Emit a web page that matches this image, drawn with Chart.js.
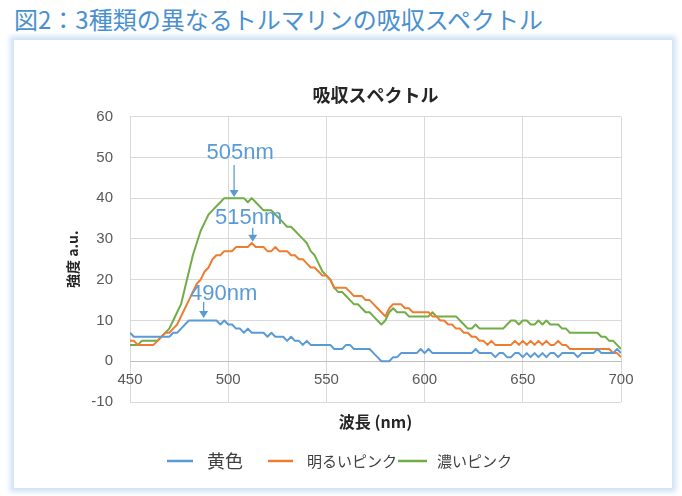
<!DOCTYPE html>
<html><head><meta charset="utf-8">
<script src="https://cdn.jsdelivr.net/npm/chart.js@4"></script>
<style>
html,body{margin:0;padding:0;background:#fff;width:682px;height:496px;overflow:hidden;}
#heading{position:absolute;left:14px;top:7px;font-family:'Noto Sans CJK JP',sans-serif;font-size:24px;line-height:24px;color:#4a90d0;white-space:nowrap;}
#card{position:absolute;left:14px;top:40px;width:658px;height:448px;background:#fff;box-shadow:0 0 5px 4px rgba(205,225,244,0.95);}
#wrap{position:absolute;left:0;top:0;width:682px;height:496px;}
</style></head><body>
<div id="heading">図2：3種類の異なるトルマリンの吸収スペクトル</div>
<div id="card"></div>
<div id="wrap"><canvas id="c"></canvas></div>
<script>
const chartTitle = '吸収スペクトル';
const xTitle = '波長 (nm)';
const yTitle = '強度 a.u.';
const seriesNames = ['黄色', '明るいピンク', '濃いピンク'];
const wavelengths = [
450,452,454,456,458,460,462,464,466,468,
470,472,474,476,478,480,482,484,486,488,
490,492,494,496,498,500,502,504,506,508,
510,512,514,516,518,520,522,524,526,528,
530,532,534,536,538,540,542,544,546,548,
550,552,554,556,558,560,562,564,566,568,
570,572,574,576,578,580,582,584,586,588,
590,592,594,596,598,600,602,604,606,608,
610,612,614,616,618,620,622,624,626,628,
630,632,634,636,638,640,642,644,646,648,
650,652,654,656,658,660,662,664,666,668,
670,672,674,676,678,680,682,684,686,688,
690,692,694,696,698,700];
const yellowValues = [
7,6,6,6,6,6,6,6,6,6,
6,7,7,8,9,10,10,10,10,10,
10,10,10,9,10,9,9,8,8,7,
8,7,7,7,7,6,7,6,6,6,
5,6,5,5,4,5,4,4,4,4,
4,4,3,3,3,4,4,3,3,3,
3,3,2,1,0,0,0,1,1,2,
2,2,2,2,3,2,3,2,2,2,
2,2,2,2,2,2,2,2,3,2,
2,2,2,1,2,2,1,1,2,2,
1,2,1,2,1,2,1,2,2,1,
2,2,2,2,1,2,2,2,2,3,
2,2,2,2,3,2];
const lightPinkValues = [
5,5,4,4,4,4,4,5,6,7,
7,8,9,11,13,15,17,19,20,22,
23,25,26,26,27,27,27,28,28,28,
28,29,28,28,28,27,27,28,27,27,
27,26,26,25,25,24,23,23,22,21,
21,20,18,18,18,18,17,16,16,16,
15,15,14,13,12,11,13,14,14,14,
13,13,12,12,12,12,12,11,11,10,
10,9,9,8,8,7,7,6,6,5,
5,4,5,4,4,4,4,4,5,4,
5,4,5,4,5,4,5,4,4,5,
4,4,3,3,3,3,3,3,3,3,
3,3,3,2,2,1];
const darkPinkValues = [
4,4,4,5,5,5,5,5,6,7,
8,10,12,14,18,22,26,29,32,34,
36,37,38,39,40,40,40,40,40,40,
39,40,39,38,37,37,37,36,35,34,
33,33,32,31,30,29,27,26,24,22,
21,20,18,17,17,16,15,14,14,13,
12,12,11,10,9,10,12,13,12,12,
12,11,11,11,11,11,11,12,11,11,
11,11,11,11,10,9,8,8,9,8,
8,8,8,8,8,8,9,10,10,9,
10,10,9,9,10,9,10,9,9,9,
8,8,7,7,7,7,7,7,7,7,
6,6,5,5,4,3];
const yTicks = [-10, 0, 10, 20, 30, 40, 50, 60];
const xTicks = [450, 500, 550, 600, 650, 700];
const peakLabels = ['505nm', '515nm', '490nm'];
const peakNm = [503, 512.5, 487.5];
const peakValue = [40.3, 29.3, 10.6];

const colors = ['#5B9BD5', '#ED7D31', '#70AD47'];
const FONT = "'Liberation Sans','Noto Sans CJK JP',sans-serif";
Chart.defaults.font.family = FONT;
Chart.defaults.color = '#595959';

function toPoints(vals) { return wavelengths.map((w, i) => ({x: w, y: vals[i]})); }

const peakPlugin = {
  id: 'peaks',
  afterDatasetsDraw(chart) {
    const ctx = chart.ctx, xs = chart.scales.x, ys = chart.scales.y;
    const style = [
      {dx: 6, dy: -44, shaft: 32},
      {dx: -4, dy: -23.5, shaft: 14},
      {dx: 20, dy: -24, shaft: 16}
    ];
    ctx.save();
    peakLabels.forEach((t, i) => {
      const px = xs.getPixelForValue(peakNm[i]);
      const py = ys.getPixelForValue(peakValue[i]);
      const s = style[i];
      ctx.strokeStyle = '#5B9BD5';
      ctx.fillStyle = '#5B9BD5';
      ctx.lineWidth = 1.3;
      ctx.beginPath();
      ctx.moveTo(px, py - s.shaft);
      ctx.lineTo(px, py - 6);
      ctx.stroke();
      ctx.beginPath();
      ctx.moveTo(px, py);
      ctx.lineTo(px - 4.5, py - 7);
      ctx.lineTo(px + 4.5, py - 7);
      ctx.closePath();
      ctx.fill();
      ctx.font = '22px ' + FONT;
      ctx.textAlign = 'center';
      ctx.textBaseline = 'middle';
      ctx.fillText(t, px + s.dx, py + s.dy);
    });
    ctx.restore();
  }
};

const legendPlugin = {
  id: 'bottomLegend',
  afterDraw(chart) {
    const ctx = chart.ctx;
    const layout = [
      {x0: 167, x1: 193, tx: 207, size: 18},
      {x0: 268, x1: 293, tx: 307, size: 15},
      {x0: 398, x1: 427, tx: 437, size: 15}
    ];
    const y = 461;
    ctx.save();
    chart.data.datasets.forEach((ds, i) => {
      const l = layout[i];
      ctx.strokeStyle = ds.borderColor;
      ctx.lineWidth = 2.5;
      ctx.beginPath();
      ctx.moveTo(l.x0, y);
      ctx.lineTo(l.x1, y);
      ctx.stroke();
      ctx.fillStyle = '#404040';
      ctx.font = l.size + "px 'Noto Sans CJK JP',sans-serif";
      ctx.textAlign = 'left';
      ctx.textBaseline = 'middle';
      ctx.fillText(ds.label, l.tx, y);
    });
    ctx.restore();
  }
};

new Chart(document.getElementById('c'), {
  type: 'line',
  data: {
    datasets: [
      {label: seriesNames[0], data: toPoints(yellowValues), borderColor: colors[0], backgroundColor: colors[0]},
      {label: seriesNames[1], data: toPoints(lightPinkValues), borderColor: colors[1], backgroundColor: colors[1]},
      {label: seriesNames[2], data: toPoints(darkPinkValues), borderColor: colors[2], backgroundColor: colors[2]}
    ]
  },
  options: {
    responsive: true,
    maintainAspectRatio: false,
    animation: false,
    events: [],
    layout: {padding: {left: 56, right: 61, top: 40, bottom: 94}},
    elements: {line: {borderWidth: 2, tension: 0, borderJoinStyle: 'round'}, point: {radius: 0}},
    plugins: {
      legend: {display: false},
      tooltip: {enabled: false},
      title: {
        display: true, text: chartTitle, fullSize: false,
        color: '#262626',
        font: {family: "'Noto Sans CJK JP',sans-serif", size: 18, weight: 'bold', lineHeight: 1.2},
        padding: {top: 44, bottom: 11}
      }
    },
    scales: {
      x: {
        type: 'linear', min: 450, max: 700,
        position: {y: 0},
        afterBuildTicks(s) { s.ticks = xTicks.map(v => ({value: v})); },
        ticks: {padding: 10, font: {size: 15}, color: '#595959', maxRotation: 0},
        grid: {color: '#D9D9D9', drawTicks: false, lineWidth: 1},
        border: {color: '#BFBFBF', width: 1},
        title: {display: true, text: xTitle, color: '#262626',
          font: {family: "'Noto Sans CJK JP',sans-serif", size: 16, weight: 'bold', lineHeight: 1.2},
          padding: {top: 13, bottom: 0}}
      },
      y: {
        type: 'linear', min: -10, max: 60,
        afterBuildTicks(s) { s.ticks = yTicks.map(v => ({value: v})); },
        afterFit(s) { s.width = 130 - 56; },
        ticks: {padding: 17, font: {size: 15}, color: '#595959'},
        grid: {color: '#D9D9D9', drawTicks: false, lineWidth: 1},
        border: {display: false},
        title: {display: true, text: yTitle, color: '#262626',
          font: {family: "'Noto Sans CJK JP',sans-serif", size: 14, weight: 'bold', lineHeight: 1.2},
          padding: {top: 8, bottom: 0}}
      }
    }
  },
  plugins: [peakPlugin, legendPlugin]
});
</script>
</body></html>
